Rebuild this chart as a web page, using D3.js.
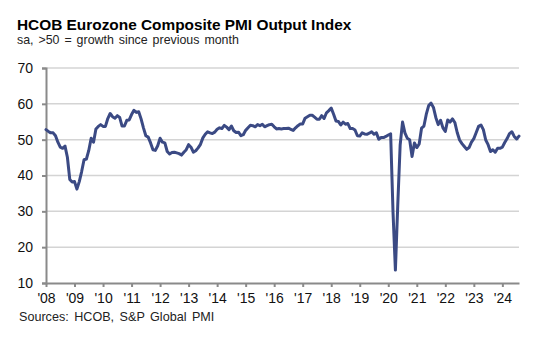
<!DOCTYPE html>
<html lang="en">
<head>
<meta charset="UTF-8">
<title>HCOB Eurozone Composite PMI Output Index</title>
<script src="https://d3js.org/d3.v7.min.js"></script>
<style>
    body { margin: 0; background: #fff; }
    svg { display: block; font-family: "Liberation Sans", Arial, sans-serif; }
</style>
</head>
<body>
<div id="chart"></div>
<script>
    const startYear = 2008;
    // monthly PMI values, Jan 2008 .. Aug 2024
    const pmi = [
        52.8, 52.3, 51.9, 51.9, 51.1, 49.3, 47.9, 47.6, 48.2, 45.1, 38.9, 38.2,
        38.3, 36.2, 38.3, 41.1, 44.4, 44.6, 47.0, 50.4, 49.3, 53.0, 53.7, 54.2,
        53.7, 53.7, 55.9, 57.3, 56.4, 56.0, 56.7, 56.2, 53.8, 53.8, 55.4, 55.5,
        57.0, 58.2, 57.6, 57.8, 55.8, 53.3, 51.1, 50.7, 49.1, 47.2, 47.0, 48.3,
        50.4, 49.3, 49.1, 46.7, 46.0, 46.4, 46.5, 46.3, 46.1, 45.7, 46.5, 47.2,
        48.6, 47.9, 46.5, 46.9, 47.7, 48.7, 50.5, 51.5, 52.2, 51.9, 51.7, 52.1,
        52.9, 53.3, 53.1, 54.0, 53.5, 52.8, 53.8, 52.5, 52.0, 52.1, 51.1, 51.4,
        52.6, 53.3, 54.0, 53.9, 53.6, 54.2, 53.9, 54.3, 53.6, 53.9, 54.2, 54.3,
        53.6, 53.0, 53.1, 53.0, 53.1, 53.1, 53.2, 52.9, 52.6, 53.3, 53.9, 54.4,
        54.4, 56.0, 56.4, 56.8, 56.8, 56.3, 55.7, 55.7, 56.7, 55.9, 57.5, 58.1,
        58.8, 57.1, 55.2, 55.1, 54.1, 54.9, 54.3, 54.5, 53.1, 53.1, 52.7, 51.1,
        51.0, 51.9, 51.6, 51.5, 51.8, 52.2, 51.5, 51.9, 50.1, 50.6, 50.6, 50.9,
        51.3, 51.6, 29.7, 13.6, 31.9, 48.5, 54.9, 51.9, 50.4, 50.0, 45.3, 49.1,
        47.8, 48.8, 53.2, 53.8, 57.1, 59.5, 60.2, 59.0, 56.2, 54.2, 55.4, 53.3,
        52.3, 55.5, 54.9, 55.8, 54.8, 52.0, 49.9, 48.9, 48.1, 47.3, 47.8, 49.3,
        50.3, 52.0, 53.7, 54.1, 52.8, 49.9, 48.6, 46.7, 47.2, 46.5, 47.6, 47.6,
        47.9, 49.2, 50.3, 51.7, 52.2, 50.9, 50.2, 51.0
    ];
    const yTicks = [10, 20, 30, 40, 50, 60, 70];
    const yearTicks = d3.range(2008, 2025);

    const width = 542;
    const height = 350;
    const marginLeft = 46;
    const marginRight = 23;
    const marginTop = 68;
    const marginBottom = 67;

    const data = pmi.map((v, i) => ({ t: startYear + i / 12, value: v }));

    const svg = d3.select("#chart")
        .append("svg")
        .attr("width", width)
        .attr("height", height);

    const x = d3.scaleLinear()
        .domain([startYear, startYear + (pmi.length - 1) / 12])
        .range([marginLeft, width - marginRight]);
    const y = d3.scaleLinear()
        .domain([10, 70])
        .range([height - marginBottom, marginTop]);

    // title
    svg.append("text")
        .attr("x", 17).attr("y", 30)
        .attr("font-size", 15.4).attr("font-weight", "bold")
        .attr("fill", "#000")
        .text("HCOB Eurozone Composite PMI Output Index");
    svg.append("text")
        .attr("x", 17).attr("y", 44)
        .attr("font-size", 12.4)
        .attr("word-spacing", 1.5)
        .attr("fill", "#222")
        .text("sa, >50 = growth since previous month");

    // gridlines
    svg.append("g")
        .selectAll("line")
        .data(yTicks.filter(d => d > 10))
        .join("line")
        .attr("x1", marginLeft).attr("x2", width - marginRight)
        .attr("y1", d => y(d)).attr("y2", d => y(d))
        .attr("stroke", "#d4d4d4")
        .attr("stroke-width", 1.5);

    // y axis
    svg.append("g")
        .attr("transform", `translate(${marginLeft},0)`)
        .call(d3.axisLeft(y).tickValues(yTicks).tickSize(4).tickPadding(9))
        .call(g => g.selectAll("path, line").attr("stroke", "#8a8a8a").attr("stroke-width", 2))
        .call(g => g.selectAll("text").attr("font-size", 14).attr("fill", "#111")
            .attr("font-family", "Liberation Sans, Arial, sans-serif"));

    // x axis
    svg.append("g")
        .attr("transform", `translate(0,${height - marginBottom})`)
        .call(d3.axisBottom(x).tickValues(yearTicks)
            .tickFormat(d => "'" + String(d).slice(2))
            .tickSize(4).tickSizeOuter(0).tickPadding(6))
        .call(g => g.selectAll("path, line").attr("stroke", "#8a8a8a").attr("stroke-width", 2))
        .call(g => g.selectAll("text").attr("font-size", 14).attr("fill", "#111")
            .attr("font-family", "Liberation Sans, Arial, sans-serif"));

    // line
    const line = d3.line()
        .x(d => x(d.t))
        .y(d => y(d.value));

    svg.append("path")
        .datum(data)
        .attr("fill", "none")
        .attr("stroke", "#3b4a84")
        .attr("stroke-width", 3)
        .attr("stroke-linejoin", "round")
        .attr("stroke-linecap", "round")
        .attr("d", line);

    svg.append("text")
        .attr("x", 19).attr("y", 321)
        .attr("font-size", 12.6)
        .attr("word-spacing", 2)
        .attr("fill", "#222")
        .text("Sources: HCOB, S&P Global PMI");
</script>
</body>
</html>
